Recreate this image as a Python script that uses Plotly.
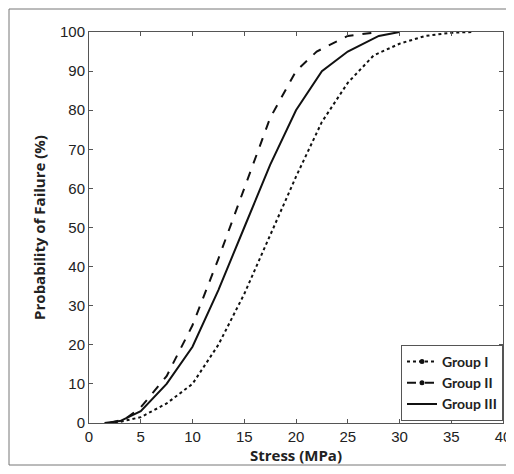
import plotly.graph_objects as go

# Probability of failure vs stress
stress_g1 = [2.5, 5, 7.5, 10, 12.5, 15, 17.5, 20, 22.5, 25, 27.5, 30, 32.5, 35, 37]
prob_g1 = [0, 1.5, 5, 10, 20, 33, 48, 63, 77, 87, 94, 97, 99, 99.8, 100]

stress_g2 = [2, 3.5, 5, 7.5, 10, 12.5, 15, 17.5, 20, 22, 25, 28]
prob_g2 = [0, 1, 4, 12, 25, 42, 60, 78, 90, 95, 99, 100]

stress_g3 = [1.5, 3, 5, 7.5, 10, 12.5, 15, 17.5, 20, 22.5, 25, 28, 30]
prob_g3 = [0, 0.5, 3, 10, 19.5, 34, 50, 66, 80, 90, 95, 99, 100]

groups = [
    ("Group I", stress_g1, prob_g1, "dot"),
    ("Group II", stress_g2, prob_g2, "dash"),
    ("Group III", stress_g3, prob_g3, "solid"),
]

fig = go.Figure()

for name, xs, ys, dash in groups:
    fig.add_trace(go.Scatter(x=xs, y=ys, mode="lines", showlegend=False,
                             line=dict(color="#111111", width=2, dash=dash)))

# legend-only entries (dot in the middle for the first two, as in the source)
for name, xs, ys, dash in groups:
    mode = "lines" if dash == "solid" else "lines+markers"
    fig.add_trace(go.Scatter(x=[None], y=[None], mode=mode, name="<b>" + name + "</b>",
                             line=dict(color="#111111", width=2, dash=dash),
                             marker=dict(size=5, color="#111111")))

axis_common = dict(
    showgrid=False, zeroline=False, showline=True, mirror="ticks", automargin=False,
    linecolor="#555555", linewidth=1, ticks="inside", ticklen=4,
    tickcolor="#555555", tickfont=dict(family="Liberation Sans, Arial", size=15, color="#222222"),
)

title_font = dict(family="Open Sans, Liberation Sans", size=15, color="#222222")

fig.update_xaxes(range=[0, 40], dtick=5,
                 title=dict(text="<b>Stress (MPa)</b>", standoff=4, font=title_font),
                 **axis_common)
fig.update_yaxes(range=[0, 100], dtick=10,
                 title=dict(text="<b>Probability of Failure (%)</b>", standoff=10, font=title_font),
                 **axis_common)

# the page adds an 8px body margin, so the figure is shrunk and shifted to fit
fig.update_layout(
    width=506, height=458,
    margin=dict(l=81, r=11, t=24, b=43),
    paper_bgcolor="white", plot_bgcolor="white",
    legend=dict(x=1, y=2 / 391, xanchor="right", yanchor="bottom",
                bordercolor="#555555", borderwidth=1, bgcolor="white",
                tracegroupgap=0,
                font=dict(family="Lato, Open Sans", size=14, color="#222222")),
    shapes=[dict(type="rect", xref="paper", yref="paper",
                 x0=-80 / 414, x1=1 + 6 / 414, y0=-42 / 391, y1=1 + 23 / 391,
                 line=dict(color="#777777", width=1))],
)

fig.write_html("out.html")
